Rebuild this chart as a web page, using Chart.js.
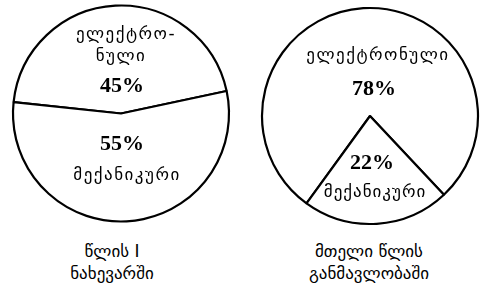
<!DOCTYPE html>
<html>
<head>
<meta charset="utf-8">
<script src="https://cdn.jsdelivr.net/npm/chart.js@4.4.0/dist/chart.umd.min.js"></script>
<style>
  body { margin: 0; background: #fff; }
  #wrap { position: relative; width: 480px; height: 293px; overflow: hidden; }
  .pie { position: absolute; top: 0; }
  #pie1 { left: 0; width: 242px; height: 227px; }
  #pie2 { left: 260px; width: 220px; height: 232px; }
  .title { position: absolute; top: 240px; width: 200px; text-align: center;
           font-family: "DejaVu Sans", sans-serif; font-size: 17px; line-height: 22px; color: #000; }
</style>
</head>
<body>
<div id="wrap">
  <div class="pie" id="pie1"><canvas id="c1"></canvas></div>
  <div class="pie" id="pie2"><canvas id="c2"></canvas></div>
  <div class="title" style="left:12px">წლის I<br>ნახევარში</div>
  <div class="title" style="left:269px">მთელი წლის<br>განმავლობაში</div>
</div>
<script>
// კატეგორიები და მნიშვნელობები
const categories = ['ელექტრონული', 'მექანიკური'];
const halfYear = [45, 55];
const wholeYear = [78, 22];

// წარწერები წრეების შიგნით (სტრიქონები)
const halfYearText = [['ელექტრო-', 'ნული'], ['მექანიკური']];
const wholeYearText = [['ელექტრონული'], ['მექანიკური']];

// ტექსტის ხატვა ცენტრიდან წანაცვლებით
const labelPlugin = {
  id: 'pieLabels',
  afterDraw(chart, args, opts) {
    const ctx = chart.ctx;
    const arc = chart.getDatasetMeta(0).data[0];
    const cx = arc.x, cy = arc.y;
    ctx.save();
    ctx.fillStyle = '#000';
    ctx.textAlign = 'center';
    ctx.textBaseline = 'middle';
    opts.items.forEach(it => {
      ctx.font = it.font;
      ctx.letterSpacing = it.sp || '0px';
      ctx.fillText(it.text, cx + it.dx, cy + it.dy);
    });
    ctx.restore();
  }
};

const geo = '17px "DejaVu Sans"';
const pct = 'bold 22px "Liberation Serif"';

const makePie = (id, values, rotation, items) => new Chart(document.getElementById(id), {
  type: 'pie',
  data: {
    labels: categories,
    datasets: [{
      data: values,
      backgroundColor: '#fff',
      borderColor: '#000',
      borderWidth: 2.2
    }]
  },
  options: {
    responsive: true,
    maintainAspectRatio: false,
    animation: false,
    rotation: rotation,
    radius: 108,
    layout: { padding: 0 },
    plugins: { legend: { display: false }, tooltip: { enabled: false }, pieLabels: { items } }
  },
  plugins: [labelPlugin]
});

makePie('c1', halfYear, -84, [
  { text: halfYearText[0][0], dx: 5, dy: -79, font: geo, sp: '1.5px' },
  { text: halfYearText[0][1], dx: 0, dy: -57, font: geo, sp: '1.5px' },
  { text: halfYear[0] + '%', dx: 1, dy: -27, font: pct },
  { text: halfYear[1] + '%', dx: 1, dy: 31, font: pct },
  { text: halfYearText[1][0], dx: 6, dy: 62, font: geo, sp: '1.5px' }
]);

makePie('c2', wholeYear, 216, [
  { text: wholeYearText[0][0], dx: 8, dy: -60, font: geo, sp: '1.5px' },
  { text: wholeYear[0] + '%', dx: 4, dy: -27, font: pct },
  { text: wholeYear[1] + '%', dx: 2, dy: 47, font: pct },
  { text: wholeYearText[1][0], dx: 5, dy: 77, font: geo, sp: '1px' }
]);
</script>
</body>
</html>
